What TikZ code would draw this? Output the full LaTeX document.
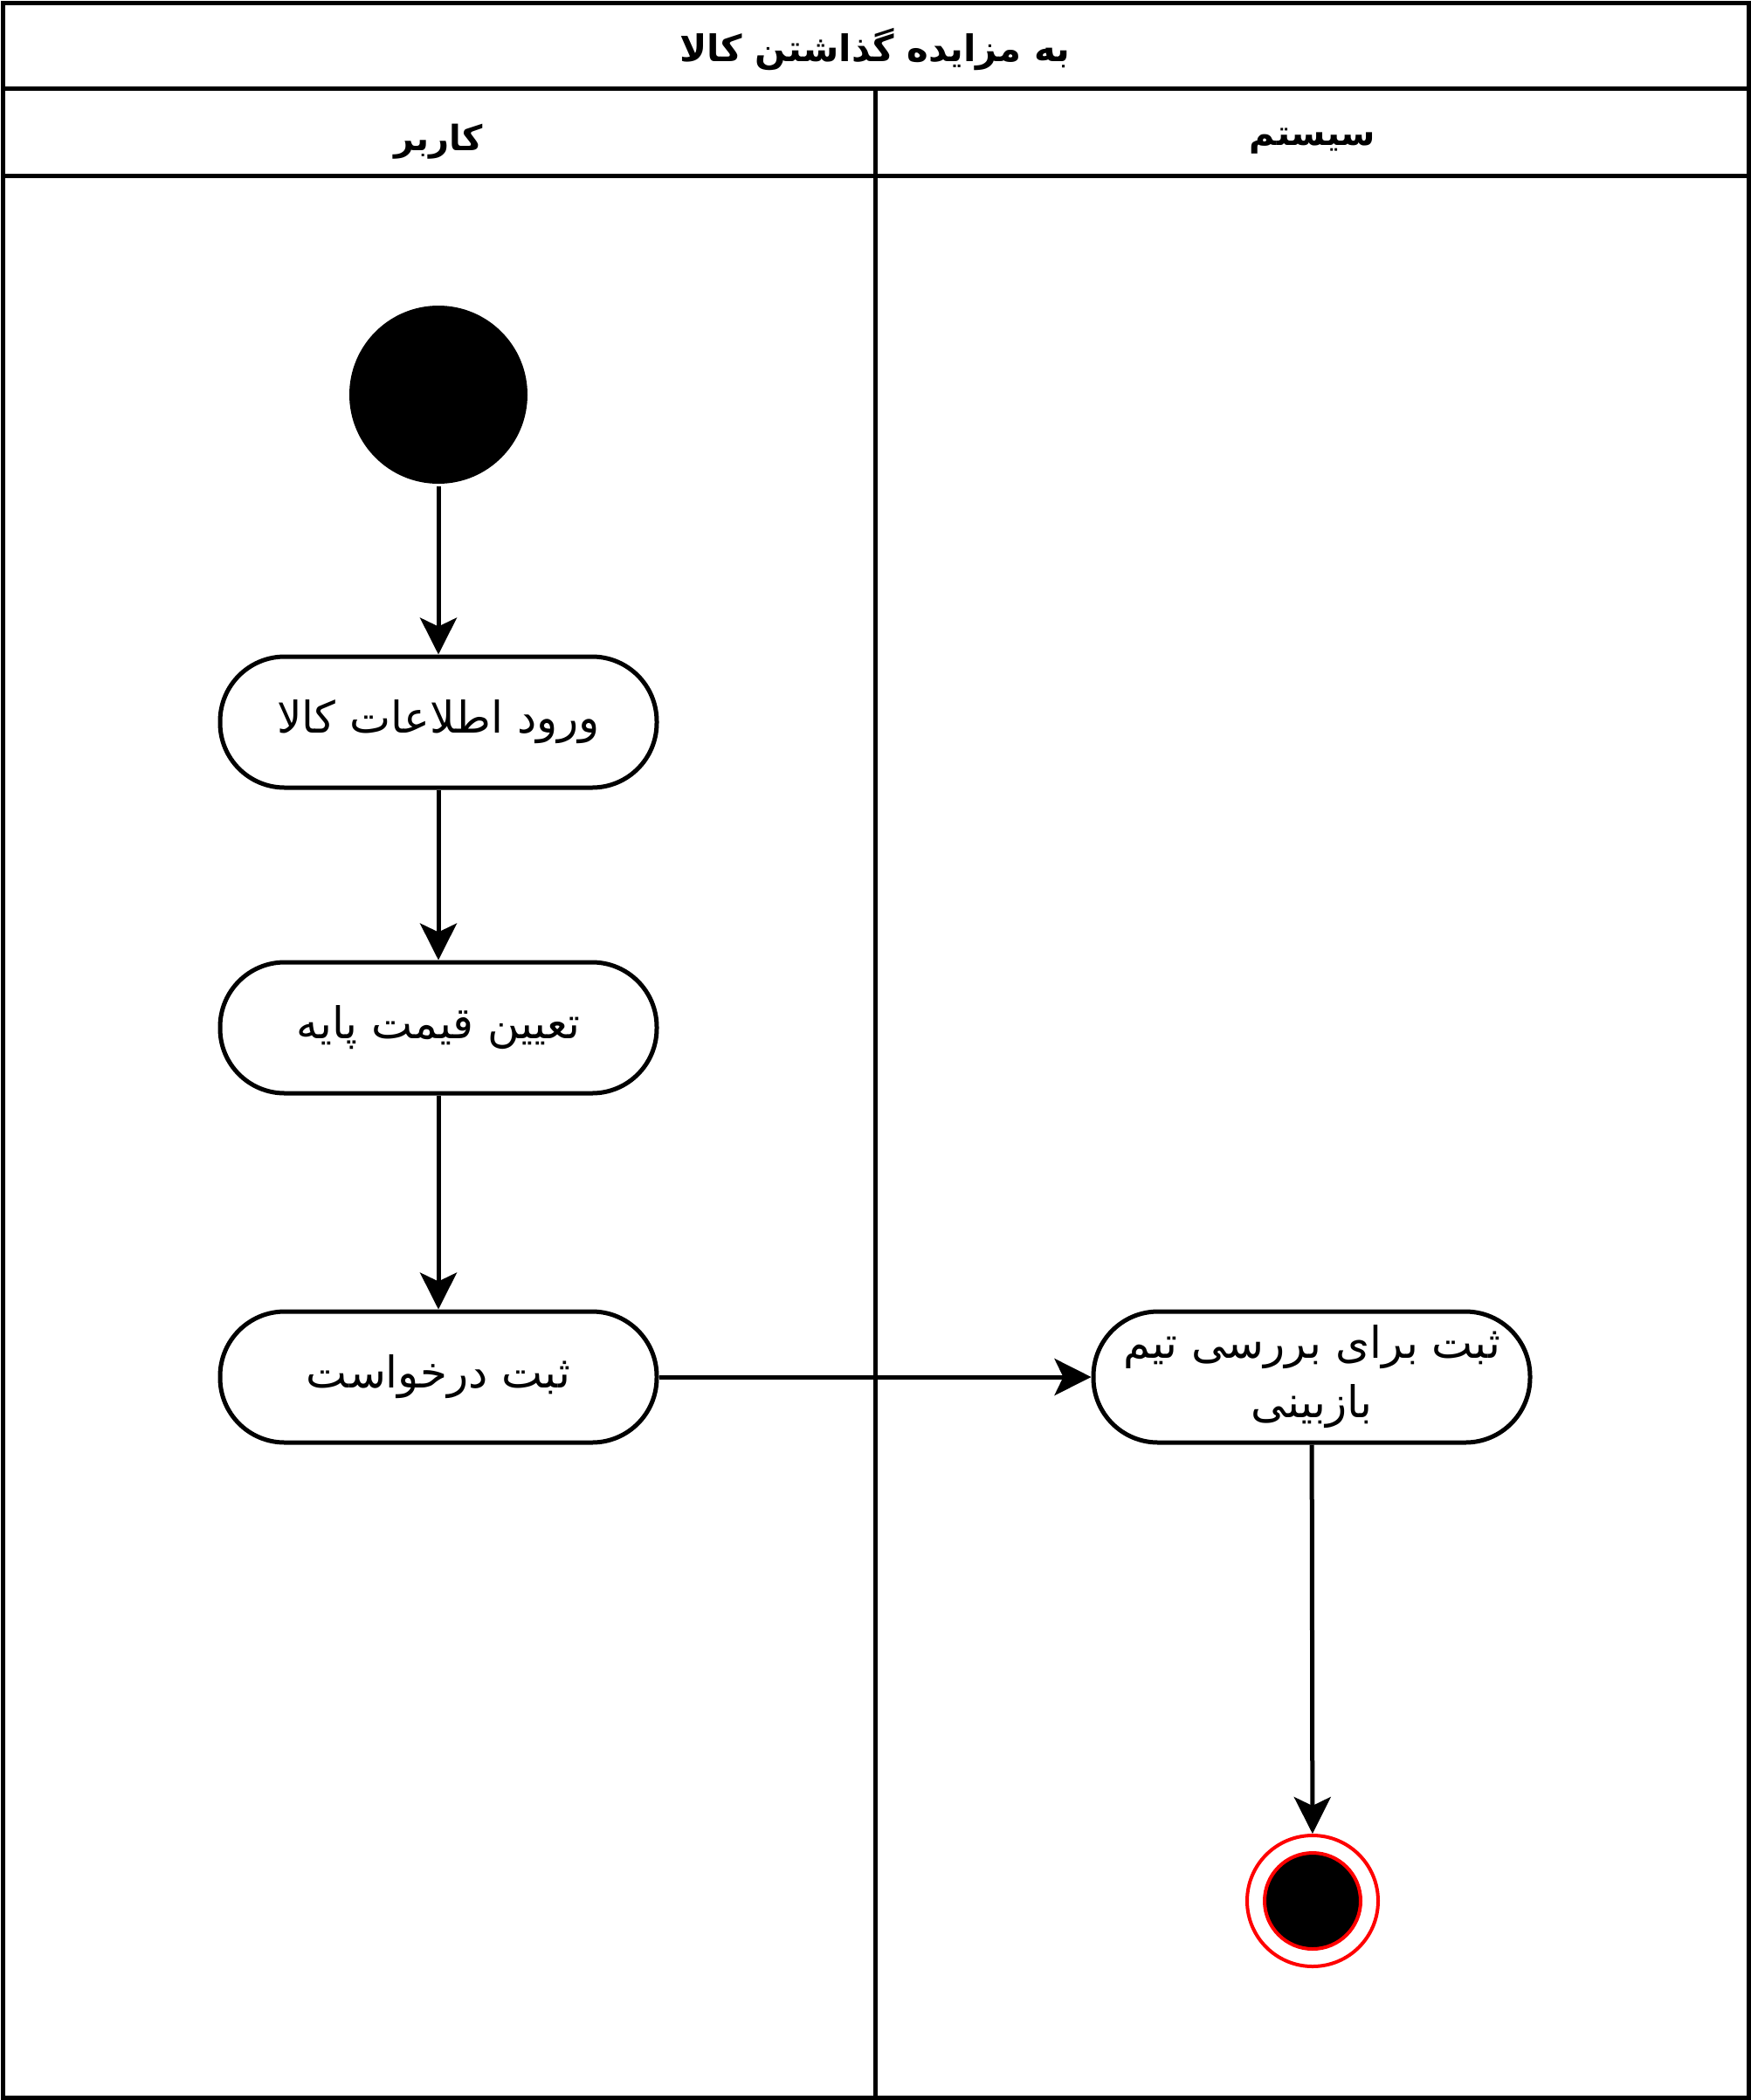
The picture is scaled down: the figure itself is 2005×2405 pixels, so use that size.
\documentclass[tikz,border=0pt]{standalone}
\usepackage{fontspec}
\newfontfamily\arabicfont[Script=Arabic]{DejaVu Sans}
\TeXXeTstate=1
\usetikzlibrary{arrows.meta}
\begin{document}
\begin{tikzpicture}[x=0.5pt,y=-0.5pt,line width=2.5pt,
  act/.style={draw, rounded corners=37pt, minimum width=250pt, minimum height=75pt,
    font=\arabicfont\fontsize{25}{34}\selectfont, align=center, inner sep=0pt},
  flow/.style={-{Stealth[length=21pt,width=21pt,inset=5pt]}},
  hdr/.style={font=\arabicfont\bfseries\fontsize{20}{25}\selectfont, inner sep=0pt},
  ttl/.style={font=\arabicfont\bfseries\fontsize{21}{26}\selectfont, inner sep=0pt}]
\useasboundingbox (0,0) rectangle (2005,2405);
% pool frame and lanes
\draw (3,3) rectangle (2002,2402);
\draw (3,101) -- (2002,101);
\draw (3,201) -- (2002,201);
\draw (1002,101) -- (1002,2402);
\node[ttl] (title) at (1002,57) {\beginR به مزایده گذاشتن کالا\endR};
\node[hdr] (user) at (502,162) {\beginR کاربر\endR};
\node[hdr] (sys) at (1503,162) {\beginR سیستم\endR};
% nodes
\node[circle, fill=black, minimum size=102pt, inner sep=0pt] (start) at (502,452) {};
\node[act] (b1) at (502,827) {\beginR ورود اطلاعات کالا\endR};
\node[act] (b2) at (502,1177) {\beginR تعیین قیمت پایه\endR};
\node[act] (b3) at (502,1577) {\beginR ثبت درخواست\endR};
\node[act] (b4) at (1502,1577) {\beginR ثبت برای بررسی تیم\endR\\\beginR بازبینی\endR};
\node[circle, draw=red, fill=white, line width=2pt, minimum size=75pt, inner sep=0pt] (final) at (1503,2177) {};
\node[circle, draw=red, fill=black, line width=2pt, minimum size=55pt, inner sep=0pt] (finalin) at (1503,2177) {};
% flows
\draw[flow] (start) -- (b1);
\draw[flow] (b1) -- (b2);
\draw[flow] (b2) -- (b3);
\draw[flow] (b3) -- (b4);
\draw[flow] (b4) -- (final);
\end{tikzpicture}
\end{document}
